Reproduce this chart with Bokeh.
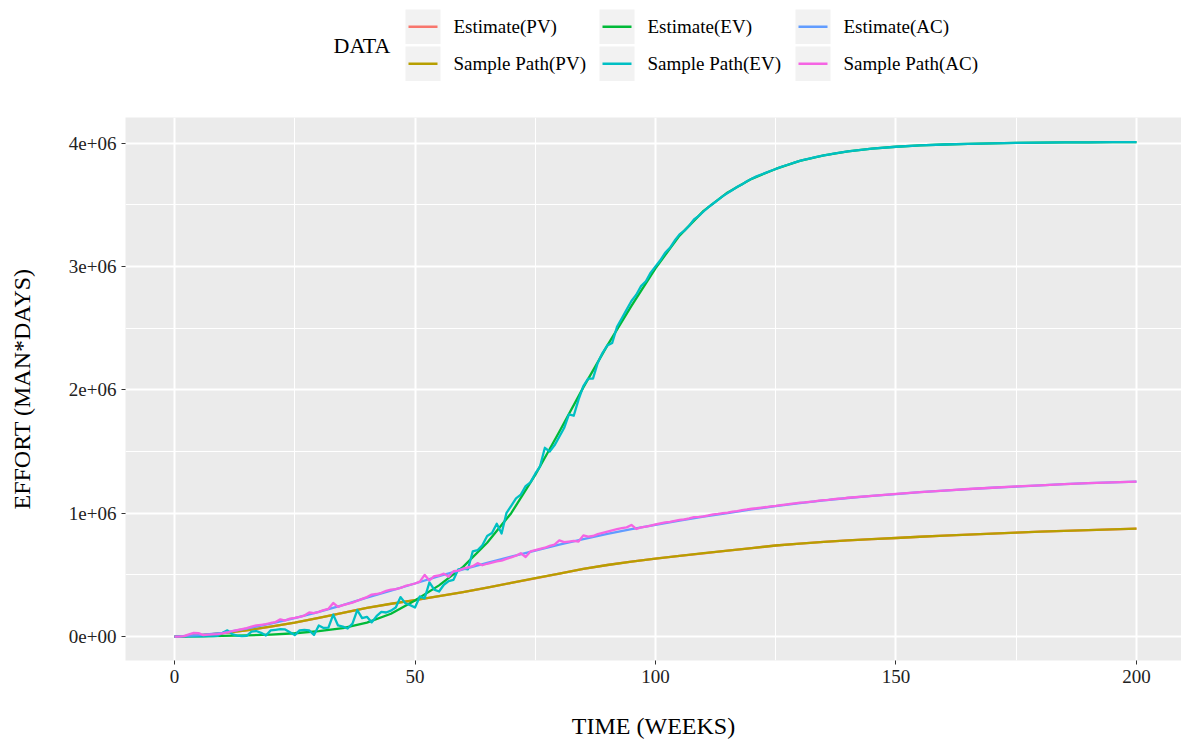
from bokeh.plotting import figure
from bokeh.models import Range1d, FixedTicker, ColumnDataSource
from bokeh.layouts import column
from bokeh.embed import file_html
from bokeh.resources import INLINE
from bokeh.core.properties import value

# ---------------- data (efforts in millions of man*days) ----------------
SERIES = ["Estimate(PV)", "Sample Path(PV)", "Estimate(EV)",
          "Sample Path(EV)", "Estimate(AC)", "Sample Path(AC)"]
COLORS = ["#F8766D", "#B79F00", "#00BA38", "#00BFC4", "#619CFF", "#F564E3"]

WEEKS_EST = [0, 5, 10, 15, 20, 25, 30, 35, 40, 45, 50, 55, 60, 65, 70, 75, 80,
             85, 90, 95, 100, 105, 110, 115, 120, 125, 130, 135, 140, 145, 150,
             155, 160, 165, 170, 175, 180, 185, 190, 195, 200]

EST_PV = [0, 0.01, 0.027, 0.05, 0.08, 0.113, 0.152, 0.192, 0.232, 0.265, 0.295,
          0.327, 0.36, 0.397, 0.435, 0.472, 0.51, 0.548, 0.58, 0.607, 0.632,
          0.654, 0.675, 0.696, 0.717, 0.738, 0.753, 0.767, 0.779, 0.789, 0.799,
          0.809, 0.818, 0.827, 0.835, 0.843, 0.85, 0.857, 0.863, 0.869, 0.875]

SAMPLE_PV = [0, 0.01, 0.027, 0.051, 0.08, 0.113, 0.152, 0.192, 0.232, 0.266, 0.295,
             0.327, 0.361, 0.397, 0.435, 0.473, 0.51, 0.548, 0.58, 0.607, 0.632,
             0.654, 0.676, 0.696, 0.717, 0.738, 0.753, 0.767, 0.779, 0.79, 0.799,
             0.809, 0.818, 0.827, 0.835, 0.843, 0.85, 0.857, 0.863, 0.869, 0.875]

EST_EV = [0, 0.002, 0.005, 0.009, 0.016, 0.027, 0.044, 0.068, 0.113, 0.185, 0.293,
          0.415, 0.565, 0.76, 1.0, 1.31, 1.66, 2.02, 2.36, 2.68, 2.985,
          3.25, 3.45, 3.6, 3.71, 3.79, 3.855, 3.9, 3.932, 3.955, 3.97,
          3.981, 3.988, 3.994, 3.998, 4.001, 4.003, 4.005, 4.006, 4.007, 4.008]

EST_AC = [0, 0.012, 0.03, 0.065, 0.105, 0.15, 0.2, 0.255, 0.315, 0.372, 0.43,
          0.49, 0.545, 0.598, 0.648, 0.697, 0.745, 0.79, 0.832, 0.87, 0.905,
          0.94, 0.972, 1.0, 1.03, 1.058, 1.082, 1.104, 1.123, 1.14, 1.155,
          1.17, 1.183, 1.195, 1.206, 1.216, 1.226, 1.235, 1.243, 1.25, 1.256]

WEEKS_SAMPLE = list(range(0, 141)) + [145, 150, 155, 160, 165, 170, 175, 180,
                                      185, 190, 195, 200]

SAMPLE_EV = [0, 0, 0.001, 0.002, 0.001, 0.003, 0.002, 0.004, 0.003, 0.006,
             0.03, 0.05, 0.02, 0.008, 0.004, 0.006, 0.04, 0.045, 0.03, 0.008,
             0.05, 0.055, 0.06, 0.058, 0.035, 0.012, 0.05, 0.055, 0.05, 0.013,
             0.09, 0.07, 0.072, 0.178, 0.09, 0.08, 0.065, 0.105, 0.215, 0.15,
             0.16, 0.115, 0.165, 0.2, 0.195, 0.21, 0.235, 0.32, 0.27, 0.255,
             0.235, 0.325, 0.31, 0.44, 0.38, 0.365, 0.42, 0.45, 0.46, 0.545,
             0.55, 0.545, 0.69, 0.70, 0.74, 0.815, 0.84, 0.915, 0.835, 1.0,
             1.06, 1.12, 1.15, 1.22, 1.25, 1.32, 1.38, 1.53, 1.50, 1.55,
             1.62, 1.69, 1.80, 1.79, 1.92, 2.03, 2.09, 2.09, 2.22, 2.30,
             2.36, 2.38, 2.51, 2.58, 2.65, 2.72, 2.77, 2.84, 2.88, 2.95,
             3.0,
             3.05, 3.11, 3.15, 3.21, 3.26, 3.29, 3.33, 3.38, 3.41, 3.445,
             3.48, 3.51, 3.54, 3.57, 3.595, 3.62, 3.645, 3.665, 3.69, 3.71,
             3.73, 3.745, 3.76, 3.775, 3.79, 3.805, 3.818, 3.83, 3.843, 3.855,
             3.865, 3.874, 3.883, 3.892, 3.9, 3.907, 3.914, 3.92, 3.926, 3.932,
             3.955, 3.97, 3.981, 3.988, 3.994, 3.998, 4.001, 4.003, 4.005, 4.006,
             4.007, 4.008]

SAMPLE_AC = [0, 0, 0.004, 0.018, 0.03, 0.028, 0.012, 0.015, 0.018, 0.02,
             0.025, 0.033, 0.045, 0.053, 0.06, 0.068, 0.08, 0.09, 0.095, 0.1,
             0.11, 0.118, 0.14, 0.13, 0.145, 0.152, 0.16, 0.17, 0.195, 0.19,
             0.2, 0.215, 0.225, 0.272, 0.24, 0.255, 0.265, 0.275, 0.29, 0.305,
             0.32, 0.34, 0.345, 0.355, 0.37, 0.38, 0.385, 0.395, 0.41, 0.42,
             0.43, 0.445, 0.50, 0.455, 0.49, 0.495, 0.51, 0.485, 0.53, 0.535,
             0.55, 0.56, 0.57, 0.595, 0.578, 0.59, 0.60, 0.61, 0.615, 0.63,
             0.642, 0.655, 0.675, 0.645, 0.69, 0.70, 0.71, 0.72, 0.735, 0.745,
             0.78, 0.765, 0.77, 0.775, 0.77, 0.82, 0.81, 0.815, 0.83, 0.84,
             0.85, 0.86, 0.87, 0.878, 0.885, 0.905, 0.872, 0.885, 0.892, 0.9,
             0.91,
             0.918, 0.925, 0.93, 0.938, 0.945, 0.95, 0.958, 0.968, 0.97, 0.975,
             0.982, 0.99, 0.994, 1.0, 1.005, 1.012, 1.016, 1.025, 1.03, 1.036,
             1.04, 1.045, 1.05, 1.056, 1.06, 1.065, 1.07, 1.075, 1.08, 1.085,
             1.088, 1.092, 1.096, 1.102, 1.105, 1.108, 1.114, 1.117, 1.12, 1.125,
             1.14, 1.157, 1.17, 1.183, 1.196, 1.206, 1.217, 1.226, 1.235, 1.243,
             1.25, 1.256]

X_TICKS = [0, 50, 100, 150, 200]
X_MINOR = [25, 75, 125, 175]
Y_TICKS = [0, 1000000, 2000000, 3000000, 4000000]
Y_MINOR = [500000, 1500000, 2500000, 3500000]
Y_LABELS = ["0e+00", "1e+06", "2e+06", "3e+06", "4e+06"]

SCALE = 1e6
FONT = "Liberation Serif"

series_data = [
    (WEEKS_EST, EST_PV),
    (WEEKS_EST, SAMPLE_PV),
    (WEEKS_EST, EST_EV),
    (WEEKS_SAMPLE, SAMPLE_EV),
    (WEEKS_EST, EST_AC),
    (WEEKS_SAMPLE, SAMPLE_AC),
]

W = 1181
FRAME_L = 125
LEG_H = 117
MAIN_H = 624

# ---------------- legend strip (coordinates in page pixels) ----------------
leg = figure(width=W, height=LEG_H, x_range=Range1d(FRAME_L, W), y_range=Range1d(LEG_H, 0),
             output_backend="svg", toolbar_location=None,
             min_border_left=FRAME_L, min_border_right=0, min_border_top=0,
             min_border_bottom=0, x_axis_location=None, y_axis_location=None)
leg.grid.visible = False
leg.outline_line_color = None
leg.background_fill_color = "white"
leg.border_fill_color = "white"

col_left = [405, 599, 795]
row_top = [9, 46]
key_w, key_h = 35, 34.5
lefts, rights, tops, bottoms = [], [], [], []
lx0, lx1, ly, lc = [], [], [], []
tx, ty, tt = [], [], []
for j in range(3):
    for i in range(2):
        k = j * 2 + i
        L = col_left[j]
        T = row_top[i]
        lefts.append(L); rights.append(L + key_w)
        tops.append(T); bottoms.append(T + key_h)
        cy = T + key_h / 2
        lx0.append(L + 3); lx1.append(L + key_w - 3); ly.append(cy); lc.append(COLORS[k])
        tx.append(L + 48); ty.append(cy); tt.append(SERIES[k])

leg.quad(left=lefts, right=rights, top=tops, bottom=bottoms,
         fill_color="#F2F2F2", line_color=None)
leg.segment(x0=lx0, x1=lx1, y0=ly, y1=ly, line_color=lc, line_width=2.4)
leg.text(x=tx, y=ty, text=tt, text_font=value(FONT), text_font_size="19px",
         text_baseline="middle", text_align="left", text_color="black")
leg.text(x=[333], y=[45], text=["DATA"], text_font=value(FONT),
         text_font_size="22px", text_baseline="middle", text_align="left",
         text_color="black")

# ---------------- main panel ----------------
p = figure(width=W, height=MAIN_H,
           x_range=Range1d(-10.19, 209.36), y_range=Range1d(-0.194e6, 4.207e6),
           output_backend="svg", toolbar_location=None,
           min_border_left=FRAME_L, min_border_right=0, min_border_top=0,
           min_border_bottom=80)
p.background_fill_color = "#EBEBEB"
p.border_fill_color = "white"
p.outline_line_color = None

p.xaxis.ticker = FixedTicker(ticks=X_TICKS, minor_ticks=X_MINOR)
p.yaxis.ticker = FixedTicker(ticks=Y_TICKS, minor_ticks=Y_MINOR)
p.yaxis.major_label_overrides = {t: lab for t, lab in zip(Y_TICKS, Y_LABELS)}

for g in (p.xgrid, p.ygrid):
    g.grid_line_color = "white"
    g.grid_line_width = 2
    g.minor_grid_line_color = "white"
    g.minor_grid_line_width = 1

for ax in (p.xaxis, p.yaxis):
    ax.axis_line_color = None
    ax.major_tick_line_color = "#333333"
    ax.major_tick_line_width = 1
    ax.major_tick_out = 4
    ax.major_tick_in = 0
    ax.minor_tick_line_color = None
    ax.major_label_text_font = FONT
    ax.major_label_text_font_size = "19px"
    ax.major_label_text_color = "#222222"
    ax.major_label_standoff = 5
    ax.axis_label_text_font = FONT
    ax.axis_label_text_font_style = "normal"
    ax.axis_label_text_font_size = "24px"
    ax.axis_label_text_color = "black"

p.xaxis.axis_label = "TIME (WEEKS)"
p.yaxis.axis_label = "EFFORT (MAN*DAYS)"
p.xaxis.axis_label_standoff = 27
p.yaxis.axis_label_standoff = 31

for (xs, ys), col in zip(series_data, COLORS):
    src = ColumnDataSource(dict(x=xs, y=[v * SCALE for v in ys]))
    p.line("x", "y", source=src, line_color=col, line_width=2.3, line_join="round")

layout = column(leg, p, spacing=0)
open("out.html", "w").write(file_html(layout, INLINE))
